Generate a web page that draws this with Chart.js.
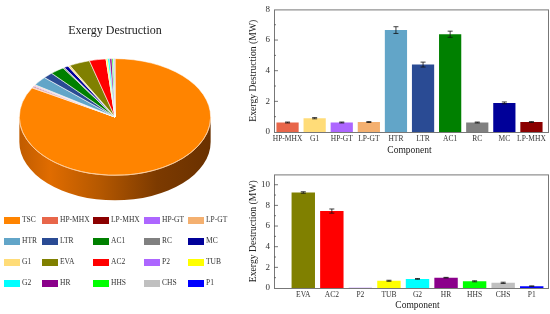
<!DOCTYPE html>
<html><head><meta charset="utf-8">
<style>
html,body{margin:0;padding:0;background:#fff;}
body{width:550px;height:314px;position:relative;overflow:hidden;font-family:"Liberation Serif",serif;}
canvas{position:absolute;}
#legend div{position:absolute;font-size:7.5px;line-height:10px;color:#333;white-space:nowrap;}
#legend span{position:absolute;width:16px;height:7px;}
</style></head><body>
<canvas id="pie" width="235" height="240" style="left:0;top:0"></canvas>
<canvas id="b1" width="315" height="160" style="left:235px;top:0"></canvas>
<canvas id="b2" width="315" height="164" style="left:235px;top:150px"></canvas>
<div id="legend"></div>
<script src="https://cdn.jsdelivr.net/npm/chart.js@4"></script>
<script>
const pieLabels=["TSC","HP-MHX","LP-MHX","HP-GT","LP-GT","HTR","LTR","AC1","RC","MC","G1","EVA","AC2","P2","TUB","G2","HR","HHS","CHS","P1"];
const pieValues=[220,0.62,0.65,0.62,0.65,6.65,4.4,6.38,0.62,1.9,0.9,9.25,7.45,0.02,0.7,0.88,1.0,0.65,0.5,0.18];
const pieColors=["#ff8400","#e8664a","#8b0000","#ad66ff","#f4b070","#62a5c8","#2a4b94","#008000","#808080","#000099","#ffdc78","#808000","#ff0000","#ad66ff","#ffff00","#00ffff","#8b008b","#00ff00","#c0c0c0","#0000ff"];

const cat1=["HP-MHX","G1","HP-GT","LP-GT","HTR","LTR","AC1","RC","MC","LP-MHX"];
const val1=[0.62,0.9,0.62,0.65,6.65,4.4,6.38,0.62,1.9,0.65];
const err1=[0.03,0.04,0.03,0.03,0.22,0.16,0.2,0.03,0.06,0.03];
const col1=["#e8664a","#ffdc78","#ad66ff","#f4b070","#62a5c8","#2a4b94","#008000","#808080","#000099","#8b0000"];

const cat2=["EVA","AC2","P2","TUB","G2","HR","HHS","CHS","P1"];
const val2=[9.25,7.45,0.02,0.7,0.88,1.0,0.65,0.5,0.18];
const err2=[0.07,0.2,0.0,0.05,0.04,0.03,0.05,0.06,0.02];
const col2=["#808000","#ff0000","#ad66ff","#ffff00","#00ffff","#8b008b","#00ff00","#c0c0c0","#0000ff"];

const legendCols=[4,42,93,144,188];
const legendTextCols=[22,60,111,162,206];
const legendRows=[220,241,262,283];
const FONT='"Liberation Serif"';

Chart.defaults.font.family=FONT;
Chart.defaults.animation=false;
Chart.defaults.responsive=false;

const lg=document.getElementById('legend');
pieLabels.forEach((l,i)=>{
  const c=i%5,r=Math.floor(i/5);
  const s=document.createElement('span');
  s.style.cssText=`left:${legendCols[c]}px;top:${legendRows[r]-3.5}px;background:${pieColors[i]};`;
  const t=document.createElement('div');
  t.textContent=l;
  t.style.left=legendTextCols[c]+'px';t.style.top=(legendRows[r]-5)+'px';
  lg.appendChild(s);lg.appendChild(t);
});

const SQUASH=0.61,DEPTH=25,CY=117;
const tilt={id:'tilt',
 beforeDatasetsDraw(ch){
  const a=ch.getDatasetMeta(0).data[0],c=ch.ctx,r=a.outerRadius,x=a.x;
  const ry=r*SQUASH;
  c.save();
  const g=c.createLinearGradient(x-r,0,x+r,0);
  g.addColorStop(0,'#c05c00');g.addColorStop(0.16,'#e06c00');g.addColorStop(0.42,'#b55800');
  g.addColorStop(0.72,'#7c3a00');g.addColorStop(1,'#6a3100');
  c.fillStyle=g;
  c.beginPath();
  c.ellipse(x,CY,r,ry,0,Math.PI,0,true);
  c.lineTo(x+r,CY+DEPTH);
  c.ellipse(x,CY+DEPTH,r,ry,0,0,Math.PI,false);
  c.closePath();c.fill();
  c.restore();
  c.save();
  c.translate(0,CY);c.scale(1,SQUASH);c.translate(0,-a.y);
 },
 afterDatasetsDraw(ch){
  const c=ch.ctx;c.restore();
  const a=ch.getDatasetMeta(0).data[0];
  c.save();c.strokeStyle='#ffc48a';c.lineWidth=.7;
  c.beginPath();c.ellipse(a.x,CY,a.outerRadius,a.outerRadius*SQUASH,0,0,Math.PI);c.stroke();
  c.restore();
 }
};
new Chart(document.getElementById('pie'),{
 type:'pie',
 data:{labels:pieLabels,datasets:[{data:pieValues,backgroundColor:pieColors,borderColor:'#ffffff',borderWidth:0.7}]},
 options:{
  layout:{padding:{left:19,right:24,top:24,bottom:0}},
  plugins:{legend:{display:false},tooltip:{enabled:false},
   title:{display:true,text:'Exergy Destruction',color:'#222',font:{size:12,weight:'normal',family:FONT},padding:0}}
 },
 plugins:[tilt]
});

const errPlugin={id:'errs',
 afterDatasetsDraw(ch,args,o){
  const meta=ch.getDatasetMeta(0),y=ch.scales.y,c=ch.ctx;
  c.save();c.strokeStyle='#111';c.lineWidth=0.8;
  meta.data.forEach((b,i)=>{
    const v=ch.data.datasets[0].data[i],e=o.err[i];if(!e)return;
    const t=y.getPixelForValue(v+e),bt=y.getPixelForValue(v-e);
    c.beginPath();c.moveTo(b.x,t);c.lineTo(b.x,bt);
    c.moveTo(b.x-2.5,t);c.lineTo(b.x+2.5,t);
    c.moveTo(b.x-2.5,bt);c.lineTo(b.x+2.5,bt);
    c.stroke();
  });
  c.restore();
 }};
const frame={id:'frame',afterDraw(ch,args,o){
  const a=ch.chartArea,c=ch.ctx,y=ch.scales.y,L=a.left-o.left,R=a.right+o.right;
  c.save();c.strokeStyle='#777';c.lineWidth=1;
  c.strokeRect(L+.5,a.top+.5,R-L,a.bottom-a.top);
  c.strokeStyle='#555';c.lineWidth=.8;
  for(let v=1;v<y.max;v++){
    const p=y.getPixelForValue(v);
    c.beginPath();c.moveTo(L,p);c.lineTo(L+(v%2?2:4),p);c.stroke();
  }
  c.restore();
}};
function bar(id,cats,vals,errs,cols,maxV,pad,inset,xh,tb){
 new Chart(document.getElementById(id),{
  type:'bar',
  data:{labels:cats,datasets:[{data:vals,backgroundColor:cols,categoryPercentage:1,barPercentage:0.82}]},
  options:{
   layout:{padding:pad},
   plugins:{legend:{display:false},tooltip:{enabled:false},errs:{err:errs},frame:inset},
   scales:{
    x:{offset:true,grid:{display:false,drawTicks:false},border:{display:false},
       ticks:{autoSkip:false,maxRotation:0,minRotation:0,color:'#333',font:{size:7.5},padding:3},
       title:{display:true,text:'Component',color:'#222',font:{size:9.5},padding:{top:1,bottom:tb}},
       afterFit(s){s.height=xh;}},
    y:{min:0,max:maxV,grid:{display:false,drawTicks:false},border:{display:false},
       ticks:{stepSize:2,color:'#333',font:{size:9},padding:4+inset.left,includeBounds:false},
       title:{display:true,text:'Exergy Destruction (MW)',color:'#222',font:{size:9.7},padding:{top:0,bottom:0}},
       afterFit(s){s.width=26+inset.left;}}
   }
  },
  plugins:[errPlugin,frame]
 });
}
bar('b1',cat1,val1,err1,col1,8,{left:13,right:5,top:7,bottom:0},{left:0,right:3},28,4);
bar('b2',cat2,val2,err2,col2,11,{left:13,right:4,top:12,bottom:0},{left:15,right:2},26,2.5);
</script>
</body></html>
